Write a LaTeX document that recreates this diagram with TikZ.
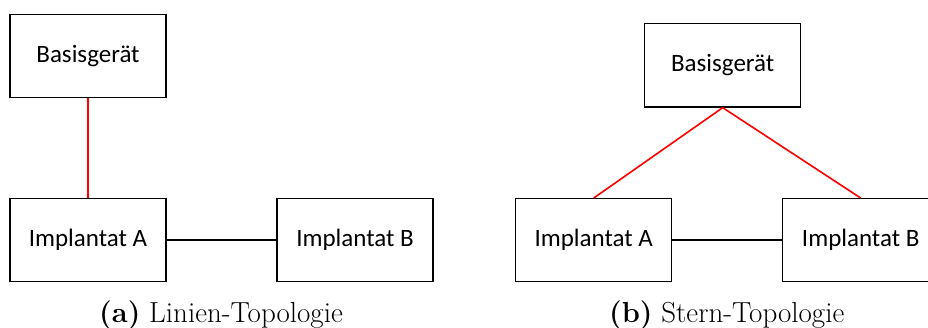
\documentclass[tikz,border=0pt]{standalone}
\usepackage{fontspec}
\newfontfamily\boxfont{Carlito}
\tikzset{
  unit/.style={draw, line width=1.4pt, minimum width=156pt, minimum height=82.5pt,
    inner sep=0pt, font=\boxfont\fontsize{25}{30}\selectfont},
  caption/.style={anchor=base, font=\fontsize{29}{34}\selectfont},
  radio/.style={red, line width=1.6pt},
  wire/.style={black, line width=1.6pt}
}
\begin{document}
\begin{tikzpicture}[x=1pt, y=1pt]
  \useasboundingbox (0, 0) rectangle (928, 327);

  % (a) line topology
  \begin{scope}
    \node[unit] (basisA) at (88, 271) {Basisgerät};
    \node[unit] (implAa) at (88, 87) {Implantat A};
    \node[unit] (implBa) at (355, 87) {Implantat B};
    \draw[radio] (basisA) -- (implAa);
    \draw[wire] (implAa) -- (implBa);
    \node[caption] (capA) at (221, 5) {\textbf{(a)} Linien-Topologie};
  \end{scope}

  % (b) star topology
  \begin{scope}[xshift=505.7pt]
    \node[unit, minimum height=83.3pt] (basisB) at (217, 261.7) {Basisgerät};
    \node[unit] (implAb) at (88, 87) {Implantat A};
    \node[unit] (implBb) at (355, 87) {Implantat B};
    \draw[radio] (basisB.south) -- (implAb.north);
    \draw[radio] (basisB.south) -- (implBb.north);
    \draw[wire] (implAb) -- (implBb);
    \node[caption] (capB) at (221, 5) {\textbf{(b)} Stern-Topologie};
  \end{scope}
\end{tikzpicture}
\end{document}
